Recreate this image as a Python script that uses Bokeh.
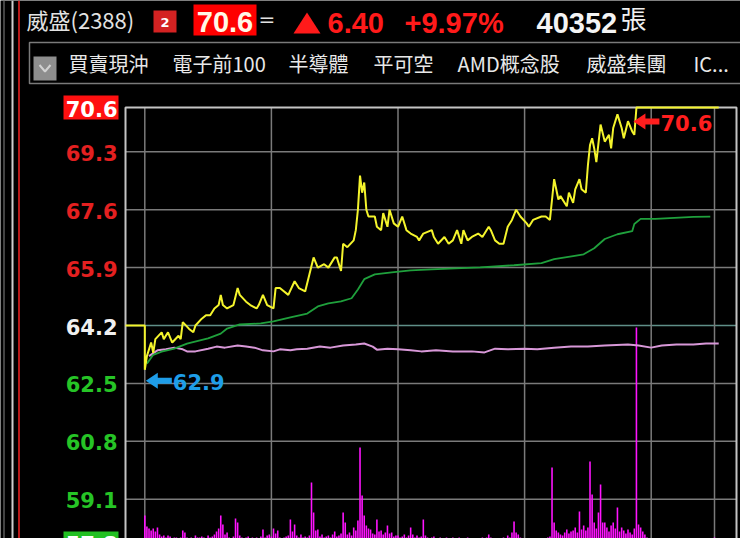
import math
from bokeh.plotting import figure
from bokeh.models import Range1d
from bokeh.core.properties import value
from bokeh.embed import file_html
from bokeh.resources import INLINE

# ---------------- data ----------------
stock_name = "威盛"
stock_code = "2388"
alert_count = "2"
last_price = 70.6
price_change = 6.40
pct_change = 9.97
total_volume = 40352
volume_unit = "張"
ref_price = 64.2

tags = ["買賣現沖", "電子前100", "半導體", "平可空", "AMD概念股", "威盛集團", "IC..."]
price_ticks = [70.6, 69.3, 67.6, 65.9, 64.2, 62.5, 60.8, 59.1, 57.8]
time_ticks = [0, 60, 120, 180, 240, 270]  # minutes after 09:00

# last trade price (minutes after 09:00)
price_t = [0, 1, 3, 4, 5, 8, 9, 11, 13, 16,
           17, 18, 21, 23, 24, 27, 29, 31, 33, 35,
           36, 37, 39, 42, 44, 45, 48, 50, 53, 54,
           56, 58, 61, 62, 64, 68, 71, 73, 76, 78,
           80, 82, 85, 87, 90, 91, 93, 94, 96, 99,
           100, 101, 102, 103, 104, 105, 106, 109, 110, 112,
           113, 115, 116, 118, 120, 122, 124, 126, 129, 130,
           132, 136, 137, 139, 142, 144, 146, 148, 150, 151,
           153, 155, 158, 160, 163, 164, 166, 168, 170, 172,
           174, 176, 178, 181, 182, 184, 188, 190, 192, 193,
           194, 195, 196, 197, 200, 201, 203, 204, 206, 207,
           209, 210, 211, 212, 213, 214, 216, 218, 220, 221,
           222, 224, 226, 227, 229, 231, 232, 233, 272]
price_v = [62.9, 63.3, 63.7, 63.4, 63.8, 64.0, 63.8, 64.0, 63.7, 63.9,
           63.8, 64.3, 64.1, 64.0, 64.2, 64.4, 64.5, 64.5, 64.7, 64.8,
           65.1, 64.8, 64.7, 64.8, 65.3, 65.1, 64.9, 64.8, 64.7, 64.8,
           65.1, 64.8, 64.7, 65.3, 65.3, 65.1, 65.5, 65.3, 65.2, 65.7,
           66.2, 65.9, 66.0, 65.9, 66.2, 66.2, 65.8, 66.6, 66.5, 66.7,
           67.0, 67.6, 68.6, 68.1, 68.4, 67.6, 67.4, 67.4, 67.1, 67.0,
           67.5, 67.1, 67.6, 67.2, 67.1, 67.4, 67.0, 66.9, 66.8, 66.7,
           66.9, 67.0, 66.8, 66.6, 66.8, 66.6, 66.7, 67.0, 66.6, 67.0,
           66.7, 66.8, 66.9, 66.8, 67.1, 67.0, 66.7, 66.6, 66.6, 67.1,
           67.3, 67.6, 67.4, 67.2, 67.1, 67.3, 67.4, 67.4, 67.3, 67.9,
           68.5, 68.2, 67.9, 68.0, 67.7, 68.1, 67.8, 68.2, 68.5, 68.2,
           68.1, 68.9, 69.5, 69.7, 69.4, 69.0, 70.1, 69.6, 69.8, 69.4,
           70.0, 70.4, 70.0, 69.7, 70.2, 69.9, 69.8, 70.6, 70.6]

# average price (green)
avg_t = [1, 4, 8, 14, 20, 30, 36, 39, 45, 55, 61, 69, 77, 82, 87, 93, 98, 101, 104, 109,
         117, 126, 136, 147, 159, 175, 188, 194, 203, 208, 213, 218, 224, 231, 232, 235,
         242, 260, 268]
avg_v = [63.08, 63.34, 63.43, 63.52, 63.67, 63.82, 63.96, 64.11, 64.23, 64.26, 64.32,
         64.44, 64.55, 64.76, 64.85, 64.91, 65.0, 65.26, 65.56, 65.7, 65.76, 65.82, 65.85,
         65.88, 65.91, 65.97, 66.03, 66.15, 66.24, 66.29, 66.47, 66.74, 66.88, 66.97,
         67.18, 67.33, 67.33, 67.39, 67.4]

# overlay line (violet)
ovl_t = [2, 6, 10, 14, 18, 20, 24, 30, 34, 38, 44, 48, 52, 56, 61, 64, 69, 72, 77, 83,
         88, 94, 100, 104, 108, 110, 115, 120, 126, 131, 138, 146, 155, 161, 166, 172,
         180, 186, 194, 202, 210, 218, 229, 234, 240, 245, 252, 260, 266, 272]
ovl_v = [63.30, 63.47, 63.50, 63.55, 63.50, 63.44, 63.44, 63.52, 63.58, 63.55, 63.61,
         63.58, 63.55, 63.47, 63.44, 63.50, 63.47, 63.50, 63.52, 63.58, 63.55, 63.61,
         63.64, 63.67, 63.58, 63.49, 63.52, 63.50, 63.47, 63.44, 63.47, 63.44, 63.44,
         63.41, 63.52, 63.50, 63.52, 63.50, 63.55, 63.58, 63.58, 63.61, 63.64, 63.61,
         63.55, 63.61, 63.64, 63.64, 63.67, 63.67]

# per-minute volume (張), minute 0 .. 270
vol = [125, 70, 60, 50, 60, 45, 65, 30, 20, 25,
       15, 25, 20, 10, 15, 15, 10, 15, 50, 40,
       15, 10, 15, 10, 25, 15, 15, 20, 15, 10,
       25, 15, 20, 30, 45, 60, 125, 80, 30, 40,
       15, 10, 20, 110, 90, 25, 15, 10, 15, 20,
       10, 15, 10, 15, 10, 20, 55, 15, 25, 30,
       20, 60, 35, 50, 15, 10, 15, 20, 25, 105,
       45, 80, 25, 15, 30, 15, 20, 15, 25, 290,
       140, 50, 55, 20, 30, 15, 20, 25, 15, 30,
       45, 20, 25, 35, 140, 90, 30, 40, 25, 65,
       50, 100, 465, 225, 125, 75, 60, 55, 35, 30,
       105, 45, 50, 30, 40, 75, 35, 40, 20, 25,
       25, 15, 20, 30, 15, 25, 65, 30, 15, 25,
       15, 20, 105, 25, 15, 10, 15, 20, 10, 10,
       15, 10, 10, 15, 10, 10, 15, 10, 10, 15,
       10, 10, 10, 15, 10, 10, 10, 5, 10, 10,
       15, 10, 15, 30, 15, 10, 10, 5, 10, 10,
       15, 10, 25, 15, 40, 95, 40, 30, 15, 10,
       10, 5, 10, 10, 5, 10, 10, 5, 10, 5,
       10, 15, 20, 365, 90, 50, 40, 30, 25, 40,
       55, 35, 45, 50, 65, 40, 145, 55, 75, 50,
       65, 395, 230, 90, 60, 140, 280, 90, 90, 65,
       45, 75, 90, 60, 165, 45, 65, 50, 35, 55,
       40, 30, 60, 1065, 80, 65, 45, 30, 15, 0,
       0, 0, 0, 0, 0, 0, 0, 0, 0, 0,
       0, 0, 0, 0, 0, 0, 0, 0, 0, 0,
       0, 0, 0, 0, 0, 0, 0, 0, 0, 0,
       15]

# ---------------- layout (screen pixels of the 740x538 window) ----------------
X0_PX, PX_PER_MIN = 144.3, 2.11
Y0_PX, PX_PER_UNIT = 325.0, 34.05
FIG_L, FIG_R, FIG_T, FIG_B = 0, 740, 0, 538
BOX_L, BOX_R, BOX_T, BOX_B = 125, 736, 107, 545
VOL_BASE_PX, VOL_PER_PX = 540, 5.0

def px_x(t):
    return X0_PX + PX_PER_MIN * t

def px_y(p):
    return Y0_PX - (p - ref_price) * PX_PER_UNIT

CJK = value("Noto Sans CJK TC")
NUM = value("DejaVu Sans")
HEAD = value("Liberation Sans")

p = figure(width=FIG_R - FIG_L, height=FIG_B - FIG_T, output_backend="svg",
           toolbar_location=None,
           x_range=Range1d((FIG_L - X0_PX) / PX_PER_MIN, (FIG_R - X0_PX) / PX_PER_MIN),
           y_range=Range1d(ref_price + (Y0_PX - FIG_B) / PX_PER_UNIT,
                           ref_price + (Y0_PX - FIG_T) / PX_PER_UNIT),
           x_axis_location=None, y_axis_location=None, min_border=0,
           background_fill_color="black", border_fill_color="black",
           outline_line_color=None)
p.extra_x_ranges = {"px": Range1d(FIG_L, FIG_R)}
p.extra_y_ranges = {"px": Range1d(FIG_B, FIG_T),
                    "vol": Range1d((VOL_BASE_PX - FIG_B) * VOL_PER_PX,
                                   (VOL_BASE_PX - FIG_T) * VOL_PER_PX)}
p.grid.visible = False
PX = dict(x_range_name="px", y_range_name="px")

# left edge lines
p.segment(x0=[3.5], x1=[3.5], y0=[0], y1=[545], line_color="#5a5a5a", line_width=1.5, **PX)
p.segment(x0=[12], x1=[12], y0=[0], y1=[545], line_color="#cfcfcf", line_width=2, **PX)
p.segment(x0=[18.5], x1=[18.5], y0=[0], y1=[545], line_color="#b81a1a", line_width=2, **PX)

# ---- header row 1 ----
p.text(x=[26], y=[18], text=[f"{stock_name}({stock_code})"], text_font=CJK,
       text_font_size="22px", text_color="#e2e2e2", text_baseline="middle", **PX)
p.quad(left=[153], right=[176], top=[10], bottom=[32], fill_color="#d42222",
       line_color=None, **PX)
p.text(x=[164.5], y=[21.5], text=[alert_count], text_font=NUM, text_font_style="bold",
       text_font_size="13px", text_color="white", text_align="center",
       text_baseline="middle", **PX)
p.quad(left=[193], right=[256], top=[4], bottom=[35], fill_color="#ff0000",
       line_color=None, **PX)
p.text(x=[224.5], y=[21], text=[f"{last_price:.1f}"], text_font=HEAD,
       text_font_style="bold", text_font_size="29px", text_color="#fff8e6",
       text_align="center", text_baseline="middle", **PX)
p.text(x=[258], y=[18], text=["="], text_font=NUM, text_font_size="20px",
       text_color="#e2e2e2", text_baseline="middle", **PX)
p.patch(x=[293, 306.5, 320], y=[33, 12, 33], fill_color="#ff1a1a", line_color=None, **PX)
p.text(x=[327, 404], y=[22, 22],
       text=[f"{price_change:.2f}", f"+{pct_change:.2f}%"], text_font=HEAD,
       text_font_style="bold", text_font_size="29px", text_color="#ff1a1a",
       text_baseline="middle", **PX)
p.text(x=[536], y=[22], text=[f"{total_volume}"], text_font=HEAD, text_font_style="bold",
       text_font_size="29px", text_color="#f4f4f4", text_baseline="middle", **PX)
p.text(x=[620], y=[17], text=[volume_unit], text_font=CJK, text_font_size="26px",
       text_color="#f0f0f0", text_baseline="middle", **PX)

# ---- header row 2 ----
p.quad(left=[29], right=[745], top=[42], bottom=[83], fill_color=None,
       line_color="#7a7a7a", line_width=1.5, **PX)
p.quad(left=[33], right=[56], top=[56], bottom=[80], fill_color="#8e8e8e",
       line_color=None, **PX)
p.line(x=[39, 44.5, 50], y=[64.5, 71, 64.5], line_color="#d2d2d2", line_width=2, **PX)
tag_x = [68, 172, 288, 373, 457, 586, 693]
p.text(x=tag_x, y=[63] * len(tags), text=tags, text_font=CJK, text_font_size="20px",
       text_color="#e8e8e8", text_baseline="middle", **PX)

# ---- grid ----
inner = price_ticks[1:-1]
p.segment(x0=[BOX_L] * len(inner), x1=[BOX_R] * len(inner),
          y0=[px_y(v) for v in inner], y1=[px_y(v) for v in inner],
          line_color=["#5f8f88" if v == ref_price else "#7a7a7a" for v in inner],
          line_width=1.5, **PX)
p.segment(x0=time_ticks, x1=time_ticks, y0=[BOX_T] * len(time_ticks),
          y1=[BOX_B] * len(time_ticks), line_color="#7a7a7a", line_width=1.5,
          y_range_name="px")

# ---- price labels ----
top_y, bot_y = px_y(price_ticks[0]), px_y(price_ticks[-1])
p.quad(left=[63, 63], right=[118, 118], top=[top_y - 12, bot_y - 12],
       bottom=[top_y + 12, bot_y + 12], fill_color=["#ff1010", "#22c022"],
       line_color=None, **PX)
lab_col = []
for i, v in enumerate(price_ticks):
    if i == 0 or i == len(price_ticks) - 1:
        lab_col.append("#ffffff")
    elif v > ref_price:
        lab_col.append("#e42020")
    elif v < ref_price:
        lab_col.append("#26c426")
    else:
        lab_col.append("#f0f0f0")
p.text(x=[117] * len(price_ticks), y=[px_y(v) + 1 for v in price_ticks],
       text=[f"{v:.1f}" for v in price_ticks], text_font=NUM, text_font_style="bold",
       text_font_size="21px", text_color=lab_col, text_align="right",
       text_baseline="middle", **PX)

# ---- volume ----
p.vbar(x=list(range(len(vol))), top=vol, bottom=0, width=0.75, fill_color="#ff14ff",
       line_color=None, y_range_name="vol")

# ---- frame ----
p.line(x=[BOX_L, BOX_L, BOX_R, BOX_R], y=[BOX_B, BOX_T, BOX_T, BOX_B],
       line_color="#c4c4c4", line_width=2, **PX)

# ---- lines ----
p.line(x=ovl_t, y=ovl_v, line_color="#d898d8", line_width=2)
p.line(x=avg_t, y=avg_v, line_color="#1fa03c", line_width=1.8)
x_left_min = (BOX_L - X0_PX) / PX_PER_MIN
p.line(x=[x_left_min, 0] + price_t, y=[ref_price, ref_price] + price_v,
       line_color="#f4f42c", line_width=2)

# ---- low / high markers ----
def arrow(tx, ty, color, label, length=26, head=12, hh=8, sh=3):
    xs = [tx, tx + head, tx + head, tx + length, tx + length, tx + head, tx + head]
    ys = [ty, ty - hh, ty - sh, ty - sh, ty + sh, ty + sh, ty + hh]
    p.patch(x=xs, y=ys, fill_color=color, line_color=None, **PX)
    p.text(x=[tx + length + 1], y=[ty + 1], text=[label], text_font=NUM,
           text_font_style="bold", text_font_size="21px", text_color=color,
           text_baseline="middle", **PX)

i_lo = price_v.index(min(price_v))
i_hi = price_v.index(max(price_v))
arrow(px_x(price_t[i_lo]) + 1, px_y(price_v[i_lo]) + 11, "#1e9de8", f"{price_v[i_lo]:.1f}")
arrow(px_x(price_t[i_hi]) - 3, px_y(price_v[i_hi]) + 14, "#ff1e1e", f"{price_v[i_hi]:.1f}")

open("out.html", "w").write(file_html(p, INLINE))
